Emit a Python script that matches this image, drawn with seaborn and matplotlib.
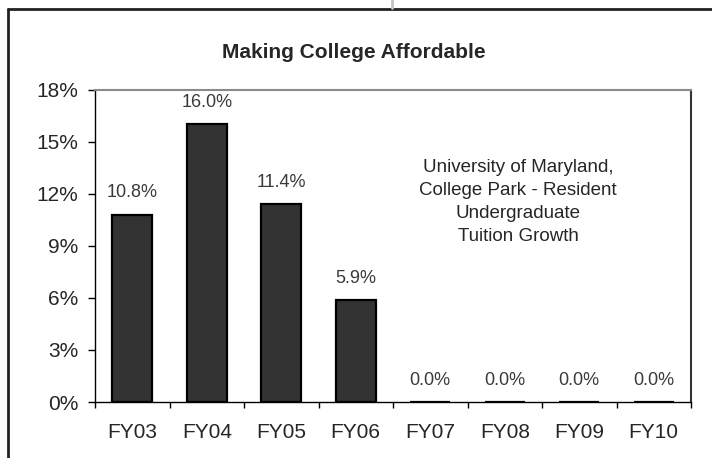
import numpy as np
import pandas as pd
import seaborn as sns
import matplotlib.pyplot as plt
from matplotlib.lines import Line2D
from matplotlib.ticker import FixedLocator

years = ['FY03', 'FY04', 'FY05', 'FY06', 'FY07', 'FY08', 'FY09', 'FY10']
growth = [10.8, 16.0, 11.4, 5.9, 0.0, 0.0, 0.0, 0.0]  # porcentaje
yticks = [0, 3, 6, 9, 12, 15, 18]

df = pd.DataFrame({'year': years, 'growth': growth})

sns.set_style('white')
plt.rcParams['font.family'] = ['Liberation Sans', 'DejaVu Sans']

W, H = 712, 458
fig = plt.figure(figsize=(W / 100, H / 100), dpi=100)
ax = fig.add_axes([95 / W, 1 - 402 / H, (691 - 95) / W, (402 - 89.5) / H])

sns.barplot(data=df, x='year', y='growth', ax=ax, color='#333333',
            saturation=1, width=0.54, edgecolor='black', linewidth=1.6)

# etiquetas sobre las barras
for i, v in enumerate(growth):
    ax.annotate(f'{v:.1f}%', (i, v), xytext=(0, 15.5), textcoords='offset points',
                ha='center', va='center', fontsize=13, color='#3a3a3a')

ax.set_xlim(-0.5, len(years) - 0.5)
ax.set_ylim(0, 18)
ax.set_yticks(yticks)
ax.set_yticklabels([f'{t}%' for t in yticks])
ax.set_xlabel('')
ax.set_ylabel('')

ax.tick_params(axis='y', which='major', direction='out', length=5, width=1,
               color='black', pad=7, labelsize=15, left=True)
ax.tick_params(axis='x', which='major', length=0, pad=15, labelsize=15)
ax.xaxis.set_minor_locator(FixedLocator(np.arange(-0.5, len(years), 1.0)))
ax.tick_params(axis='x', which='minor', direction='out', length=4.5, width=1,
               color='black', bottom=True)

for side in ['left', 'bottom']:
    ax.spines[side].set_color('black')
    ax.spines[side].set_linewidth(1)
ax.spines['top'].set_color('#8a8a8a')
ax.spines['top'].set_linewidth(1.5)
ax.spines['right'].set_color('#333333')
ax.spines['right'].set_linewidth(1.5)

fig.text(354 / W, 1 - 52 / H, 'Making College Affordable', ha='center',
         va='center', fontsize=15, fontweight='bold')
fig.text(518 / W, 1 - 202 / H,
         'University of Maryland,\nCollege Park - Resident\nUndergraduate\nTuition Growth',
         ha='center', va='center', multialignment='center', fontsize=13.5,
         linespacing=1.45)

# marco exterior
fig.add_artist(Line2D([8 / W, 8 / W], [0, 1 - 9 / H], transform=fig.transFigure,
                      color='#222222', linewidth=2))
fig.add_artist(Line2D([8 / W, 1], [1 - 9 / H, 1 - 9 / H], transform=fig.transFigure,
                      color='#222222', linewidth=2))
fig.add_artist(Line2D([392 / W, 392 / W], [1 - 8 / H, 1], transform=fig.transFigure,
                      color='#c4c4c4', linewidth=2))

fig.savefig('out.png', dpi=100)
